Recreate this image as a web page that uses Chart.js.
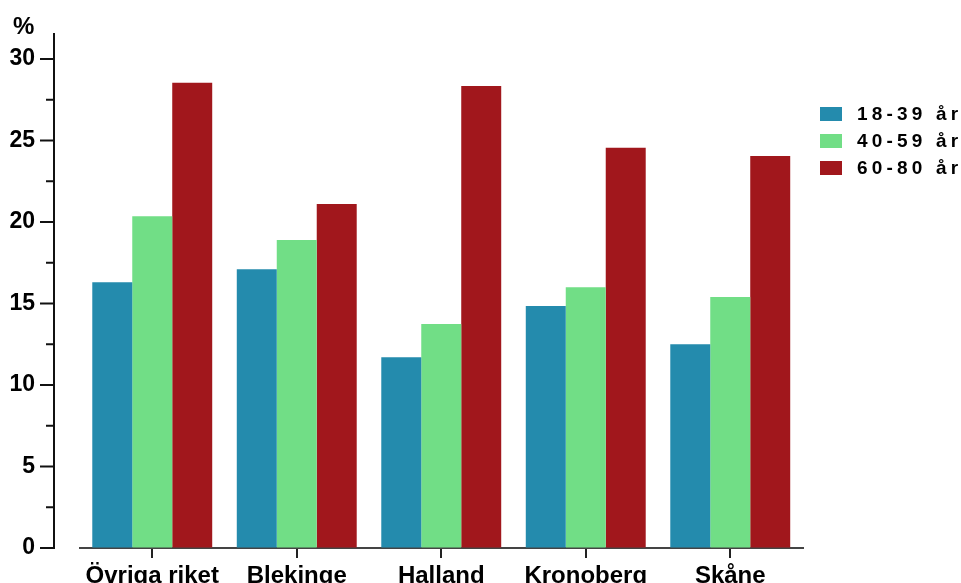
<!DOCTYPE html>
<html>
<head>
<meta charset="utf-8">
<script src="https://cdn.jsdelivr.net/npm/chart.js@4/dist/chart.umd.min.js"></script>
<style>
  html, body { margin: 0; padding: 0; background: #fff; overflow: hidden; }
  canvas { display: block; }
</style>
</head>
<body>
<canvas id="chart" width="961" height="583"></canvas>
<script>
const regions = ['Övriga riket', 'Blekinge', 'Halland', 'Kronoberg', 'Skåne'];
const age18to39 = [16.3, 17.1, 11.7, 14.85, 12.5];
const age40to59 = [20.35, 18.9, 13.75, 16.0, 15.4];
const age60to80 = [28.55, 21.1, 28.35, 24.55, 24.05];
const seriesLabels = ['18-39 år', '40-59 år', '60-80 år'];
const colors = ['#248BAD', '#71DE86', '#A1171C'];

const font = 'Liberation Sans, Arial, sans-serif';

// y-axis line sits left of the plot, x-axis line starts further right
const axisPlugin = {
    id: 'axisPlugin',
    afterDraw(chart) {
        const ctx = chart.ctx;
        const y = chart.scales.y;
        const ax = chart.chartArea.left - 26;
        ctx.save();
        ctx.strokeStyle = '#111';
        ctx.lineWidth = 2;
        ctx.beginPath();
        ctx.moveTo(ax, y.getPixelForValue(31.6));
        ctx.lineTo(ax, y.getPixelForValue(0) + 1);
        ctx.stroke();
        y.ticks.forEach(t => {
            const py = y.getPixelForValue(t.value);
            const len = t.value % 5 === 0 ? 14 : 8;
            ctx.beginPath();
            ctx.moveTo(ax - len, py);
            ctx.lineTo(ax, py);
            ctx.stroke();
        });
        // unit
        ctx.fillStyle = '#000';
        ctx.font = 'bold 24px ' + font;
        ctx.textAlign = 'left';
        ctx.textBaseline = 'alphabetic';
        ctx.fillText('%', 13, 34);

        // legend
        ctx.font = 'bold 19px ' + font;
        ctx.textBaseline = 'middle';
        if ('letterSpacing' in ctx) ctx.letterSpacing = '4.2px';
        chart.data.datasets.forEach((ds, i) => {
            const by = 107 + i * 27;
            ctx.fillStyle = ds.backgroundColor;
            ctx.fillRect(820, by, 22, 14);
            ctx.fillStyle = '#000';
            ctx.fillText(ds.label, 857, by + 8);
        });
        ctx.restore();
    }
};

new Chart(document.getElementById('chart'), {
    type: 'bar',
    data: {
        labels: regions,
        datasets: [
            { label: seriesLabels[0], data: age18to39, backgroundColor: colors[0] },
            { label: seriesLabels[1], data: age40to59, backgroundColor: colors[1] },
            { label: seriesLabels[2], data: age60to80, backgroundColor: colors[2] }
        ]
    },
    options: {
        responsive: false,
        animation: false,
        layout: { padding: { top: 59, right: 158.5, left: 0, bottom: 0 } },
        datasets: { bar: { categoryPercentage: 0.83, barPercentage: 1 } },
        plugins: { legend: { display: false }, tooltip: { enabled: false } },
        scales: {
            x: {
                afterFit: s => { s.height = 35; },
                border: { display: true, color: '#444', width: 2 },
                grid: { offset: false, drawOnChartArea: false, drawTicks: true, tickLength: 10, color: '#222', lineWidth: 2 },
                ticks: { color: '#000', padding: 4, font: { family: font, size: 24, weight: 'bold' }, maxRotation: 0, autoSkip: false }
            },
            y: {
                min: 0,
                max: 30,
                afterFit: s => { s.width = 80; },
                border: { display: false },
                // invisible tick marks only push the labels out to the left
                grid: { display: true, drawOnChartArea: false, drawTicks: true, tickLength: 42, color: 'rgba(0,0,0,0)' },
                ticks: {
                    stepSize: 2.5,
                    autoSkip: false,
                    padding: 3,
                    color: '#000',
                    font: { family: font, size: 23, weight: 'bold' },
                    callback: v => (v % 5 === 0 ? v : '')
                }
            }
        }
    },
    plugins: [axisPlugin]
});
</script>
</body>
</html>
